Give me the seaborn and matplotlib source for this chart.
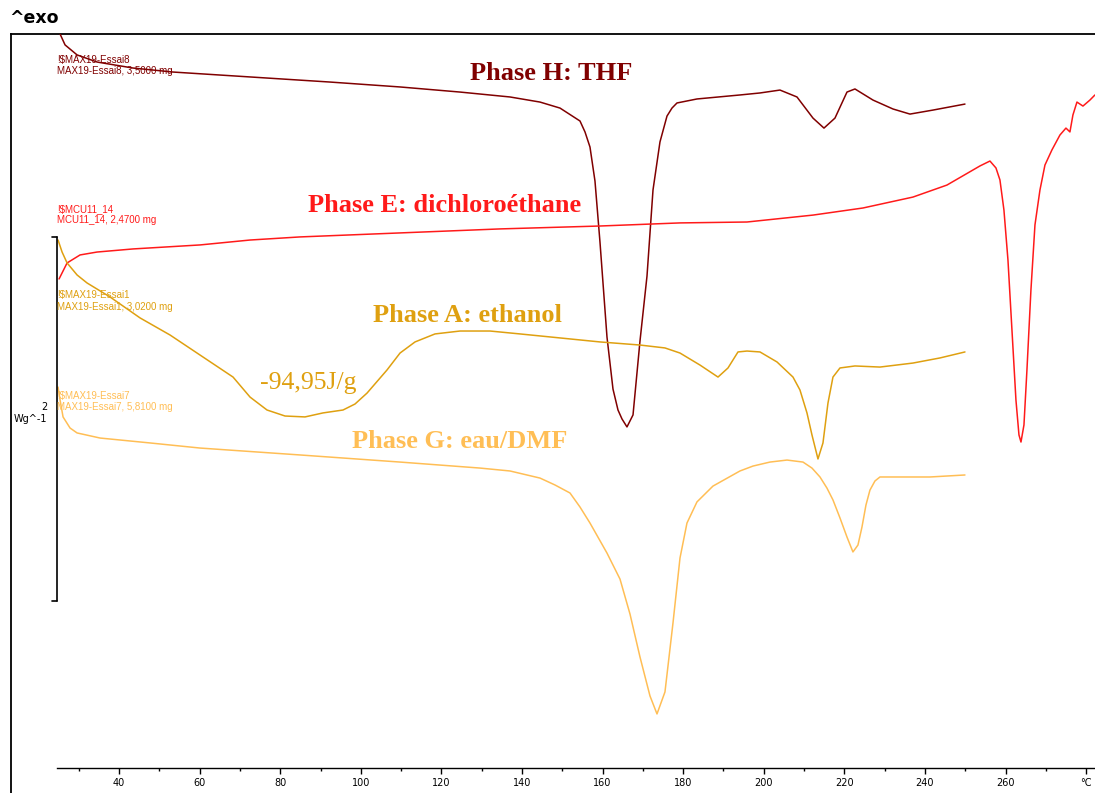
import matplotlib
matplotlib.use("Agg")
import matplotlib.pyplot as plt
import seaborn as sns
import pandas as pd

# ---------------- data (temperature in °C, heat flow in W/g, curves offset) ----------------
T_H = [25.36, 26.60, 29.58, 34.54, 43.47, 53.40, 72.51, 92.36, 109.73, 124.62, 137.02, 144.47,
       149.43, 154.39, 155.63, 156.87, 158.11, 159.35, 161.09, 162.58, 163.82, 164.81, 166.05,
       167.55, 169.28, 171.02, 172.51, 174.24, 175.98, 177.22, 178.46, 183.42, 194.09, 199.06,
       204.02, 208.24, 212.21, 214.94, 217.67, 220.65, 222.63, 227.10, 232.06, 236.28, 241.99,
       249.93]
HF_H = [4.033, 3.973, 3.918, 3.879, 3.846, 3.824, 3.797, 3.769, 3.742, 3.714, 3.687, 3.659,
        3.626, 3.555, 3.495, 3.412, 3.225, 2.890, 2.368, 2.082, 1.967, 1.918, 1.874,
        1.940, 2.346, 2.703, 3.176, 3.440, 3.582, 3.626, 3.654, 3.676, 3.698, 3.709,
        3.725, 3.687, 3.571, 3.516, 3.571, 3.714, 3.731, 3.670, 3.621, 3.593, 3.615,
        3.648]

T_E = [25.11, 27.10, 30.32, 34.54, 43.47, 60.10, 72.51, 84.91, 109.73, 134.54, 159.35, 179.21,
       195.83, 212.21, 224.62, 237.02, 245.46, 253.65, 256.13, 257.62, 258.61, 259.60, 260.60,
       261.59, 262.58, 263.33, 263.83, 264.57, 265.31, 266.30, 267.30, 268.54, 269.78, 271.51,
       273.50, 274.99, 275.98, 276.72, 277.72, 279.21, 280.94, 282.18]
HF_E = [2.687, 2.775, 2.819, 2.835, 2.852, 2.874, 2.901, 2.918, 2.940, 2.962, 2.978, 2.995,
        3.000, 3.038, 3.077, 3.137, 3.203, 3.308, 3.335, 3.297, 3.231, 3.066, 2.791,
        2.407, 2.022, 1.830, 1.791, 1.885, 2.187, 2.626, 2.984, 3.176, 3.313, 3.396,
        3.478, 3.516, 3.495, 3.588, 3.659, 3.637, 3.670, 3.698]

T_A = [24.86, 25.86, 27.10, 29.58, 32.06, 37.77, 45.21, 52.66, 60.10, 68.29, 72.51, 76.72,
       81.19, 86.15, 90.62, 95.58, 98.56, 101.54, 106.50, 109.73, 113.45, 118.41, 124.62,
       132.06, 139.50, 149.43, 159.35, 169.28, 175.48, 179.21, 184.17, 188.64, 191.12, 193.60,
       195.83, 199.06, 203.28, 207.25, 208.98, 210.72, 211.96, 213.45, 214.69, 215.93, 217.17,
       218.91, 222.63, 228.83, 237.02, 243.72, 249.93]
HF_A = [2.901, 2.835, 2.775, 2.709, 2.665, 2.588, 2.473, 2.379, 2.269, 2.148, 2.038, 1.967,
        1.934, 1.929, 1.951, 1.967, 2.000, 2.060, 2.187, 2.280, 2.341, 2.385, 2.401,
        2.401, 2.385, 2.363, 2.341, 2.324, 2.308, 2.280, 2.214, 2.148, 2.198, 2.286,
        2.291, 2.286, 2.231, 2.148, 2.077, 1.951, 1.830, 1.698, 1.786, 2.005, 2.148,
        2.198, 2.209, 2.203, 2.225, 2.253, 2.286]

T_G = [24.86, 25.36, 26.10, 27.84, 29.58, 35.29, 47.69, 60.10, 84.91, 109.73, 129.58, 137.02,
       144.47, 148.19, 151.91, 154.39, 156.87, 161.09, 164.32, 166.80, 169.28, 171.76, 173.50,
       175.48, 177.47, 179.21, 180.94, 183.42, 187.39, 194.09, 197.32, 201.54, 205.76, 209.73,
       211.96, 213.95, 215.68, 217.17, 218.91, 220.65, 222.13, 223.37, 224.37, 225.36, 226.35,
       227.59, 228.83, 233.05, 241.24, 249.93]
HF_G = [2.093, 2.022, 1.929, 1.868, 1.841, 1.813, 1.786, 1.758, 1.720, 1.681, 1.648, 1.632,
        1.593, 1.555, 1.511, 1.434, 1.346, 1.181, 1.038, 0.846, 0.610, 0.396, 0.297,
        0.418, 0.797, 1.154, 1.346, 1.462, 1.549, 1.632, 1.659, 1.681, 1.692, 1.681,
        1.648, 1.599, 1.538, 1.473, 1.374, 1.269, 1.187, 1.225, 1.324, 1.445, 1.527,
        1.577, 1.599, 1.599, 1.599, 1.610]

SERIES = ["H", "E", "A", "G"]
COLORS = {"H": "#800000", "E": "#FF1A1A", "A": "#DFA010", "G": "#FFBE55"}
PHASE_LABELS = {"H": "Phase H: THF", "E": "Phase E: dichloroéthane",
                "A": "Phase A: ethanol", "G": "Phase G: eau/DMF"}
SAMPLE_LINES = {"H": ("!$MAX19-Essai8", "MAX19-Essai8, 3,5000 mg"),
                "E": ("!$MCU11_14", "MCU11_14, 2,4700 mg"),
                "A": ("!$MAX19-Essai1", "MAX19-Essai1, 3,0200 mg"),
                "G": ("!$MAX19-Essai7", "MAX19-Essai7, 5,8100 mg")}
ENTHALPY_LABEL = "-94,95J/g"
X_TICKS = [40, 60, 80, 100, 120, 140, 160, 180, 200, 220, 240, 260, 280]
X_TICK_LABELS = ["40", "60", "80", "100", "120", "140", "160", "180", "200", "220", "240", "260", "°C"]
X_MINOR = [30, 50, 70, 90, 110, 130, 150, 170, 190, 210, 230, 250, 270]
SCALE_VALUE = 2.0
SCALE_BASE = 0.918

df = pd.concat([
    pd.DataFrame({"T": T_H, "hf": HF_H, "phase": "H"}),
    pd.DataFrame({"T": T_E, "hf": HF_E, "phase": "E"}),
    pd.DataFrame({"T": T_A, "hf": HF_A, "phase": "A"}),
    pd.DataFrame({"T": T_G, "hf": HF_G, "phase": "G"}),
], ignore_index=True)

# ---------------- figure ----------------
W, H = 1095, 793
sns.set_theme(style="white")
plt.rcParams['font.family'] = ['DejaVu Sans']

fig = plt.figure(figsize=(W / 100, H / 100), dpi=100)
fig.patch.set_facecolor("white")

def fx(x):
    return x / W

def fy(y):
    return 1 - y / H

# outer frame (left + top lines)
frame = fig.add_axes([fx(11), 0, 1 - fx(11), fy(34)])
frame.set_xticks([])
frame.set_yticks([])
frame.patch.set_alpha(0)
for s in ["right", "bottom"]:
    frame.spines[s].set_visible(False)
for s in ["left", "top"]:
    frame.spines[s].set_color("black")
    frame.spines[s].set_linewidth(1.3)

ax = fig.add_axes([fx(57), fy(768), 1 - fx(57), fy(34) - fy(768)])
ax.patch.set_alpha(0)

sns.lineplot(data=df, x="T", y="hf", hue="phase", palette=COLORS, hue_order=SERIES,
             estimator=None, sort=False, legend=False, linewidth=1.1, ax=ax)

ax.set_xlim(24.6, 282.2)
ax.set_ylim(0, 4.033)
for s in ["left", "right", "top"]:
    ax.spines[s].set_visible(False)
ax.spines["bottom"].set_color("black")
ax.spines["bottom"].set_linewidth(1.0)
ax.set_yticks([])
ax.set_xlabel("")
ax.set_ylabel("")
ax.set_xticks(X_TICKS)
ax.set_xticklabels(X_TICK_LABELS)
ax.set_xticks(X_MINOR, minor=True)
ax.tick_params(axis="x", which="major", direction="out", length=4, width=1, color="black",
               labelsize=7, pad=3, labelcolor="black", bottom=True)
ax.tick_params(axis="x", which="minor", direction="out", length=2.5, width=1, color="black",
               bottom=True)

# scale bar (2 W/g)
xs = 24.6
ax.plot([xs, xs], [SCALE_BASE, SCALE_BASE + SCALE_VALUE], color="black", lw=1.2, clip_on=False)
ax.plot([xs - 1.2, xs], [SCALE_BASE, SCALE_BASE], color="black", lw=1.2, clip_on=False)
ax.plot([xs - 1.2, xs], [SCALE_BASE + SCALE_VALUE, SCALE_BASE + SCALE_VALUE], color="black",
        lw=1.2, clip_on=False)
fig.text(fx(48), fy(407), "2", ha="right", va="center", fontsize=7, color="black")
fig.text(fx(47), fy(419), "Wg^-1", ha="right", va="center", fontsize=7, color="black")

# "^exo"
fig.text(fx(9), fy(18), "^exo", ha="left", va="center", fontsize=12.5, fontweight="bold",
         color="black")

# sample labels
small_pos = {"H": (60, 71), "E": (209, 220), "A": (295, 307), "G": (396, 407)}
for k in SERIES:
    y1, y2 = small_pos[k]
    l1, l2 = SAMPLE_LINES[k]
    fig.text(fx(57), fy(y1), l1, ha="left", va="center", fontsize=7,
             family="Liberation Sans", color=COLORS[k])
    fig.text(fx(57), fy(y2), l2, ha="left", va="center", fontsize=7,
             family="Liberation Sans", color=COLORS[k])

# phase labels
big_pos = {"H": (551, 73), "E": (445, 206), "A": (467, 315), "G": (460, 441)}
for k in SERIES:
    x, y = big_pos[k]
    fig.text(fx(x), fy(y), PHASE_LABELS[k], ha="center", va="center", fontsize=19,
             family="Liberation Serif", fontweight="bold", color=COLORS[k])

fig.text(fx(308), fy(383), ENTHALPY_LABEL, ha="center", va="center", fontsize=18.5,
         family="Liberation Serif", color=COLORS["A"])

fig.savefig("out.png", dpi=100, facecolor="white")
